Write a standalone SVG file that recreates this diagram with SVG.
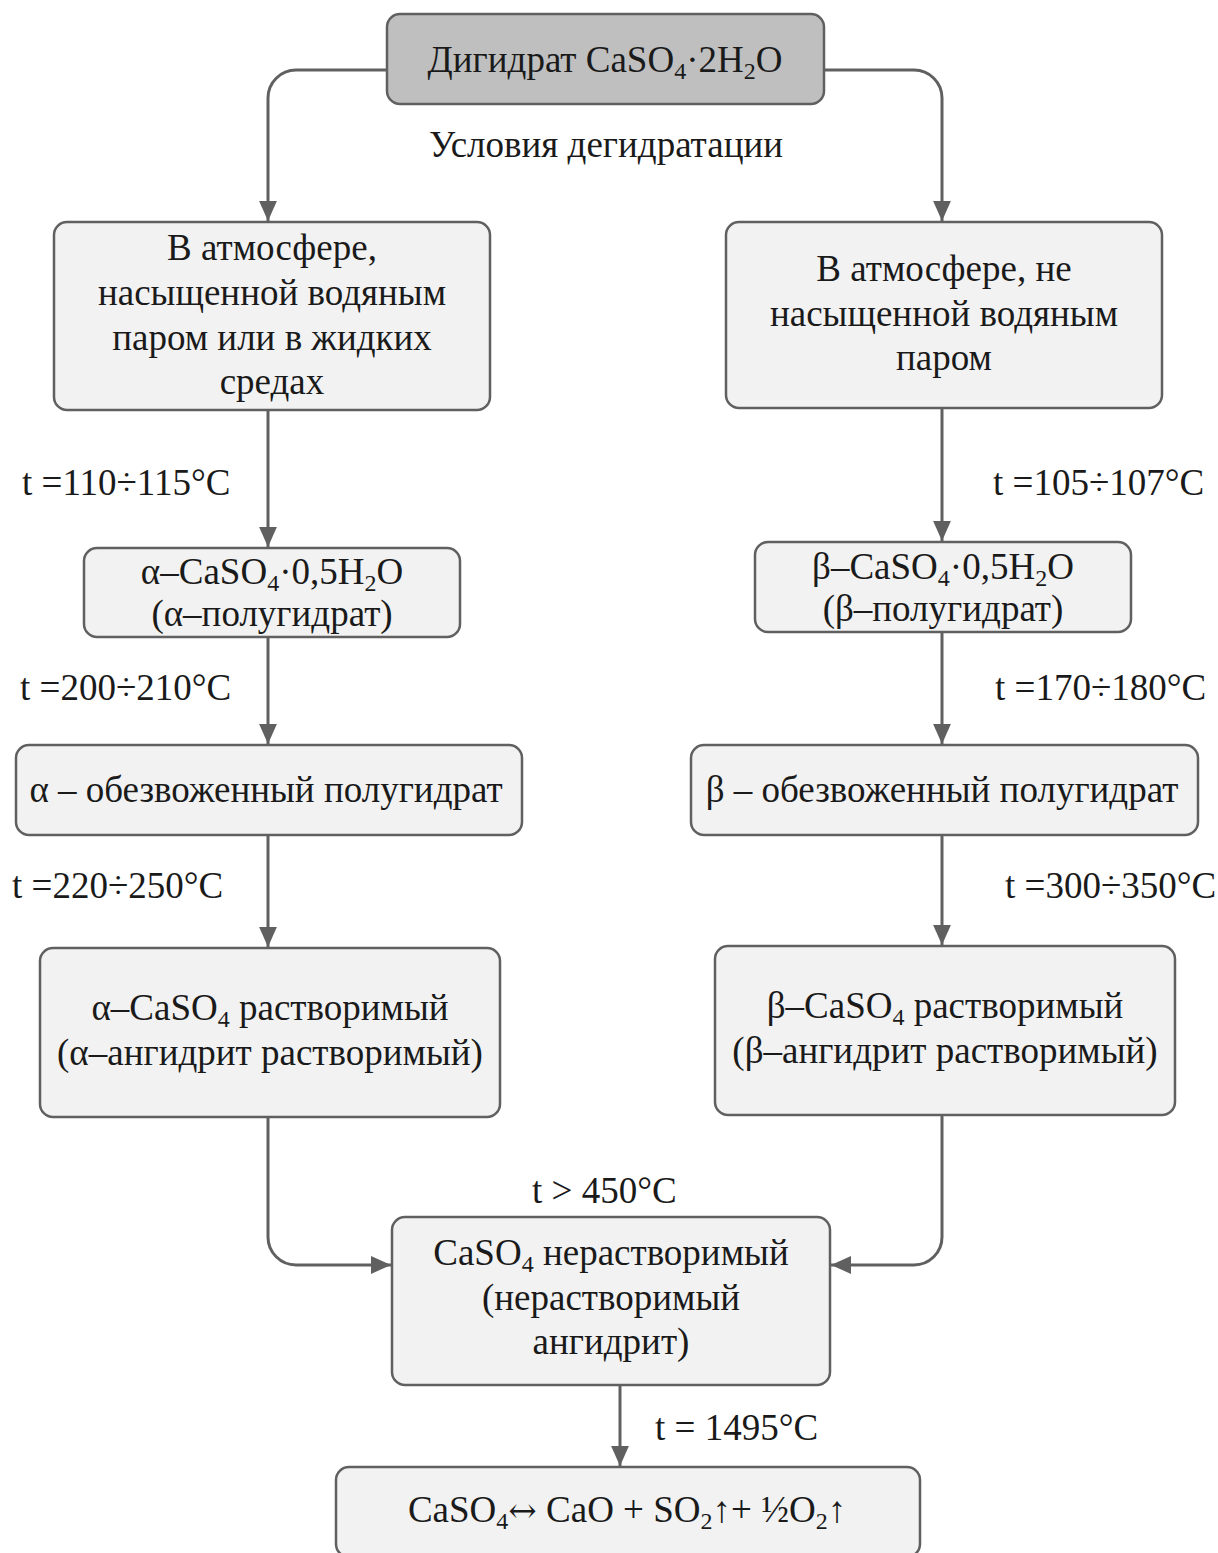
<svg xmlns="http://www.w3.org/2000/svg" width="1218" height="1553" viewBox="0 0 1218 1553">
<defs>
<style>
.box{fill:#f2f2f2;stroke:#606060;stroke-width:2.5}
.top{fill:#bfbfbf;stroke:#606060;stroke-width:2.5}
text{font-family:"Liberation Serif","Times New Roman",serif;font-size:37px;fill:#1a1a1a}
.c{text-anchor:middle}
.sub{font-size:24px}
.arr{font-family:"DejaVu Serif",serif;font-size:34px}
.edge{fill:none;stroke:#606060;stroke-width:3}
</style>
<marker id="ah" markerUnits="userSpaceOnUse" markerWidth="20" markerHeight="18" refX="18" refY="8" orient="auto" viewBox="0 0 18 16">
<path d="M0,0 L18,8 L0,16 z" fill="#606060"/>
</marker>
</defs>
<rect width="1218" height="1553" fill="#ffffff"/>

<g id="connectors">
<path class="edge" d="M387,70 H296 A28,28 0 0 0 268,98 V221" marker-end="url(#ah)"/>
<path class="edge" d="M824,70 H914 A28,28 0 0 1 942,98 V221" marker-end="url(#ah)"/>
<path class="edge" d="M268,410 V547" marker-end="url(#ah)"/>
<path class="edge" d="M942,408 V541" marker-end="url(#ah)"/>
<path class="edge" d="M268,637 V744" marker-end="url(#ah)"/>
<path class="edge" d="M942,632 V744" marker-end="url(#ah)"/>
<path class="edge" d="M268,835 V947" marker-end="url(#ah)"/>
<path class="edge" d="M942,835 V945" marker-end="url(#ah)"/>
<path class="edge" d="M268,1117 V1237 A28,28 0 0 0 296,1265 H391" marker-end="url(#ah)"/>
<path class="edge" d="M942,1115 V1237 A28,28 0 0 1 914,1265 H831" marker-end="url(#ah)"/>
<path class="edge" d="M620,1385 V1466" marker-end="url(#ah)"/>
</g>

<g id="labels">
<text class="c" x="606" y="157">Условия дегидратации</text>
<text x="22" y="495">t =110÷115°C</text>
<text x="993" y="495">t =105÷107°C</text>
<text x="20" y="700">t =200÷210°C</text>
<text x="995" y="700">t =170÷180°C</text>
<text x="12" y="898">t =220÷250°C</text>
<text x="1005" y="898">t =300÷350°C</text>
<text x="532" y="1203">t &gt; 450°C</text>
<text x="655" y="1440">t = 1495°C</text>
</g>

<g id="n0">
<rect class="top" x="387" y="14" width="437" height="90" rx="13"/>
<text class="c" x="605" y="72">Дигидрат CaSO<tspan class="sub" dy="7">4</tspan><tspan dy="-7">·2H</tspan><tspan class="sub" dy="7">2</tspan><tspan dy="-7">O</tspan></text>
</g>

<g id="nL1">
<rect class="box" x="54" y="222" width="436" height="188" rx="13"/>
<text class="c" x="272" y="260">В атмосфере,</text>
<text class="c" x="272" y="305">насыщенной водяным</text>
<text class="c" x="272" y="350">паром или в жидких</text>
<text class="c" x="272" y="394">средах</text>
</g>

<g id="nR1">
<rect class="box" x="726" y="222" width="436" height="186" rx="13"/>
<text class="c" x="944" y="281">В атмосфере, не</text>
<text class="c" x="944" y="326">насыщенной водяным</text>
<text class="c" x="944" y="370">паром</text>
</g>

<g id="nL2">
<rect class="box" x="84" y="548" width="376" height="89" rx="13"/>
<text class="c" x="272" y="584">α–CaSO<tspan class="sub" dy="7">4</tspan><tspan dy="-7">·0,5H</tspan><tspan class="sub" dy="7">2</tspan><tspan dy="-7">O</tspan></text>
<text class="c" x="272" y="626">(α–полугидрат)</text>
</g>

<g id="nR2">
<rect class="box" x="755" y="542" width="376" height="90" rx="13"/>
<text class="c" x="943" y="579">β–CaSO<tspan class="sub" dy="7">4</tspan><tspan dy="-7">·0,5H</tspan><tspan class="sub" dy="7">2</tspan><tspan dy="-7">O</tspan></text>
<text class="c" x="943" y="621">(β–полугидрат)</text>
</g>

<g id="nL3">
<rect class="box" x="16" y="745" width="506" height="90" rx="13"/>
<text class="c" x="266" y="802">α – обезвоженный полугидрат</text>
</g>

<g id="nR3">
<rect class="box" x="691" y="745" width="507" height="90" rx="13"/>
<text class="c" x="942" y="802">β – обезвоженный полугидрат</text>
</g>

<g id="nL4">
<rect class="box" x="40" y="948" width="460" height="169" rx="13"/>
<text class="c" x="270" y="1020">α–CaSO<tspan class="sub" dy="7">4</tspan><tspan dy="-7"> растворимый</tspan></text>
<text class="c" x="270" y="1065">(α–ангидрит растворимый)</text>
</g>

<g id="nR4">
<rect class="box" x="715" y="946" width="460" height="169" rx="13"/>
<text class="c" x="945" y="1018">β–CaSO<tspan class="sub" dy="7">4</tspan><tspan dy="-7"> растворимый</tspan></text>
<text class="c" x="945" y="1063">(β–ангидрит растворимый)</text>
</g>

<g id="n5">
<rect class="box" x="392" y="1217" width="438" height="168" rx="13"/>
<text class="c" x="611" y="1265">CaSO<tspan class="sub" dy="7">4</tspan><tspan dy="-7"> нерастворимый</tspan></text>
<text class="c" x="611" y="1310">(нерастворимый</text>
<text class="c" x="611" y="1354">ангидрит)</text>
</g>

<g id="n6">
<rect class="box" x="336" y="1467" width="584" height="90" rx="13"/>
<text class="c" x="627" y="1522">CaSO<tspan class="sub" dy="7">4</tspan><tspan class="arr" dy="-7">↔</tspan><tspan> CaO + SO</tspan><tspan class="sub" dy="7">2</tspan><tspan dy="-7">↑+ ½O</tspan><tspan class="sub" dy="7">2</tspan><tspan dy="-7">↑</tspan></text>
</g>
</svg>
